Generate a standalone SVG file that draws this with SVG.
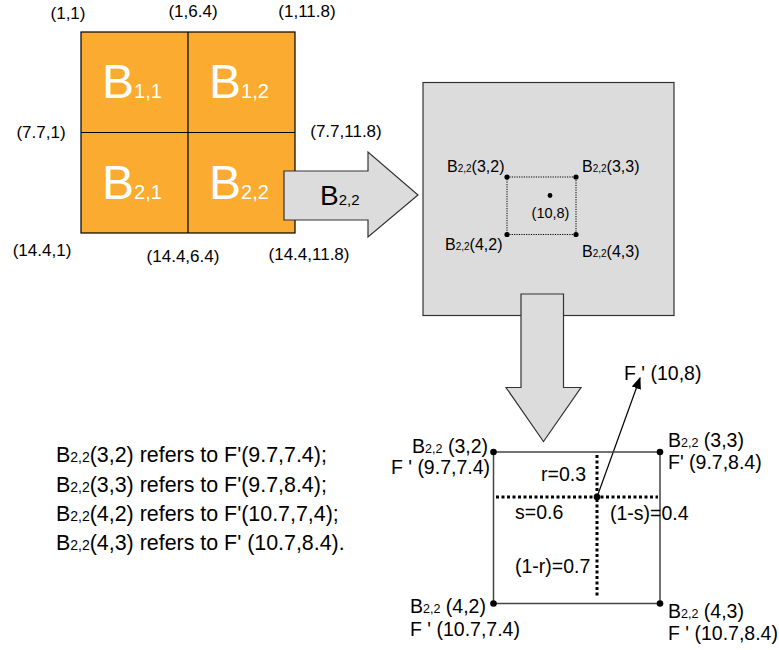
<svg xmlns="http://www.w3.org/2000/svg" width="779" height="650" viewBox="0 0 779 650">
<defs>
<style>
text{font-family:"Liberation Sans",Arial,Helvetica,sans-serif;fill:#000}
.coord{font-size:17px;text-anchor:middle}
.big{font-size:48px;fill:#fff}
.big .s{font-size:20px}
.gl{font-size:16px}
.gl .s{font-size:10px}
.bl{font-size:19.5px}
.bl .s{font-size:12.5px}
.lt{font-size:21.4px}
.lt .s{font-size:14px}
.fat{fill:#dcdcdc;stroke:#333;stroke-width:1.2}
.dot{fill:#000}
</style>
<marker id="ah" viewBox="0 0 10 10" refX="9" refY="5" markerWidth="12" markerHeight="12" markerUnits="userSpaceOnUse" orient="auto">
<path d="M0,1 L10,5 L0,9 Z" fill="#000"/>
</marker>
</defs>
<rect width="779" height="650" fill="#fff"/>

<g id="grid">
<rect x="81" y="32" width="214" height="201" fill="#FAAB30" stroke="#000" stroke-width="1.2"/>
<line x1="188" y1="32" x2="188" y2="233" stroke="#000" stroke-width="1.2"/>
<line x1="81" y1="132.5" x2="295" y2="132.5" stroke="#000" stroke-width="1.2"/>
<text class="big" x="102" y="98">B<tspan class="s">1,1</tspan></text>
<text class="big" x="209" y="98">B<tspan class="s">1,2</tspan></text>
<text class="big" x="102" y="199">B<tspan class="s">2,1</tspan></text>
<text class="big" x="209" y="199">B<tspan class="s">2,2</tspan></text>
<text class="coord" x="68" y="19">(1,1)</text>
<text class="coord" x="193" y="17">(1,6.4)</text>
<text class="coord" x="307" y="17">(1,11.8)</text>
<text class="coord" x="41" y="138">(7.7,1)</text>
<text class="coord" x="346" y="137">(7.7,11.8)</text>
<text class="coord" x="42" y="256">(14.4,1)</text>
<text class="coord" x="183" y="262">(14.4,6.4)</text>
<text class="coord" x="309" y="260">(14.4,11.8)</text>
</g>

<g id="block">
<rect x="423" y="82.5" width="251" height="233" class="fat"/>
<rect x="507" y="177" width="69" height="57.5" fill="none" stroke="#000" stroke-width="1" stroke-dasharray="1.2,1.2"/>
<circle class="dot" cx="507" cy="177" r="2.6"/>
<circle class="dot" cx="576" cy="177" r="2.6"/>
<circle class="dot" cx="507" cy="234.5" r="2.6"/>
<circle class="dot" cx="576" cy="234.5" r="2.6"/>
<circle class="dot" cx="550" cy="195.5" r="2.4"/>
<text x="550.5" y="218" font-size="14.5" text-anchor="middle">(10,8)</text>
<text class="gl" x="447" y="172">B<tspan class="s">2,2</tspan>(3,2)</text>
<text class="gl" x="582" y="172">B<tspan class="s">2,2</tspan>(3,3)</text>
<text class="gl" x="445" y="250">B<tspan class="s">2,2</tspan>(4,2)</text>
<text class="gl" x="582" y="257">B<tspan class="s">2,2</tspan>(4,3)</text>
</g>

<g id="connectors">
<polygon id="arrow-right" class="fat" points="284,171 368,171 368,152 418,195 368,237 368,220 284,220"/>
<text x="320" y="205" font-size="28">B<tspan font-size="15">2,2</tspan></text>
<polygon id="arrow-down" class="fat" points="521,294 563.5,294 563.5,387.5 581,387.5 543.5,441.5 506,387.5 521,387.5"/>
<line x1="597" y1="497" x2="640" y2="378" stroke="#000" stroke-width="1.2" marker-end="url(#ah)"/>
</g>

<g id="interp">
<rect x="493.5" y="452" width="166.5" height="151.5" fill="none" stroke="#444" stroke-width="1.5"/>
<line x1="496" y1="497" x2="658" y2="497" stroke="#000" stroke-width="3" stroke-dasharray="3,2.5"/>
<line x1="597" y1="455" x2="597" y2="598" stroke="#000" stroke-width="3" stroke-dasharray="3,2.5"/>
<circle class="dot" cx="493.5" cy="452" r="3.3"/>
<circle class="dot" cx="660" cy="452" r="3.3"/>
<circle class="dot" cx="493.5" cy="603.5" r="3.3"/>
<circle class="dot" cx="660" cy="603.5" r="3.3"/>
<circle class="dot" cx="597" cy="497" r="3.3"/>
<text class="bl" x="624" y="380">F ' (10,8)</text>
<text class="bl" x="488" y="453" text-anchor="end">B<tspan class="s">2,2</tspan> (3,2)</text>
<text class="bl" x="490" y="474" text-anchor="end">F ' (9.7,7.4)</text>
<text class="bl" x="668" y="447">B<tspan class="s">2,2</tspan> (3,3)</text>
<text class="bl" x="668" y="469">F' (9.7,8.4)</text>
<text class="bl" x="541" y="481">r=0.3</text>
<text class="bl" x="515" y="519">s=0.6</text>
<text class="bl" x="610" y="520">(1-s)=0.4</text>
<text class="bl" x="515" y="573">(1-r)=0.7</text>
<text class="bl" x="410" y="613">B<tspan class="s">2,2</tspan> (4,2)</text>
<text class="bl" x="410" y="636">F ' (10.7,7.4)</text>
<text class="bl" x="668" y="618">B<tspan class="s">2,2</tspan> (4,3)</text>
<text class="bl" x="668" y="640">F ' (10.7,8.4)</text>
</g>

<g id="notes">
<text class="lt" x="56" y="462">B<tspan class="s">2,2</tspan>(3,2) refers to F'(9.7,7.4);</text>
<text class="lt" x="56" y="491.5">B<tspan class="s">2,2</tspan>(3,3) refers to F'(9.7,8.4);</text>
<text class="lt" x="56" y="520.5">B<tspan class="s">2,2</tspan>(4,2) refers to F'(10.7,7,4);</text>
<text class="lt" x="56" y="549.5">B<tspan class="s">2,2</tspan>(4,3) refers to F' (10.7,8.4).</text>
</g>
</svg>
